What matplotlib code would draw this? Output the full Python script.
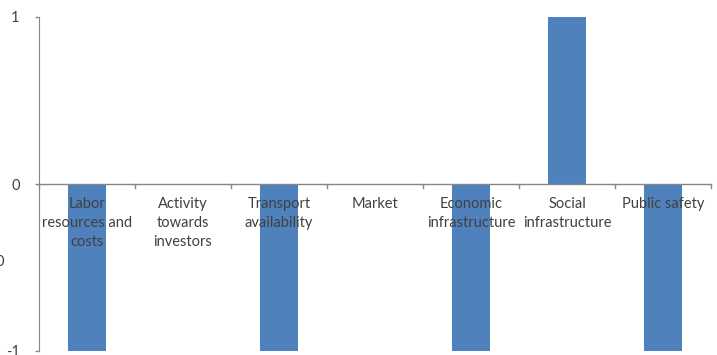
import matplotlib
matplotlib.use("Agg")
import matplotlib.pyplot as plt
import numpy as np

categories = ["Labor\nresources and\ncosts", "Activity\ntowards\ninvestors",
              "Transport\navailability", "Market", "Economic\ninfrastructure",
              "Social\ninfrastructure", "Public safety"]
values = [-1, 0, -1, 0, -1, 1, -1]
ytick_values = [-1, 0, 1]

plt.rcParams['font.family'] = ['Lato', 'DejaVu Sans']
text_color = "#404040"
axis_color = "#868686"
bar_color = "#4F81BD"

fig = plt.figure(figsize=(7.17, 3.55), dpi=100)
ax = fig.add_axes([39 / 717, 1 - 351 / 355, (711 - 39) / 717, (351 - 17) / 355])

x = np.arange(len(categories))
ax.bar(x, values, width=0.4, color=bar_color, zorder=2)

ax.set_xlim(-0.5, len(categories) - 0.5)
ax.set_ylim(-1, 1)

for s in ["top", "right", "bottom"]:
    ax.spines[s].set_visible(False)
ax.spines["left"].set_color(axis_color)
ax.axhline(0, color=axis_color, lw=1, zorder=3)

ax.set_xticks([])
# category boundary ticks on the zero line
for b in np.arange(-0.5, len(categories), 1.0):
    ax.plot([b, b], [0, -0.025], color=axis_color, lw=1, zorder=3, clip_on=False)

ax.set_yticks(ytick_values)
ax.set_yticklabels([str(v) for v in ytick_values])
ax.tick_params(axis="y", length=3, width=1, color=axis_color, pad=11,
               labelsize=10.5, labelcolor=text_color)

for xi, label in zip(x, categories):
    ax.annotate(label, (xi, 0), xytext=(0, -9.5), textcoords="offset points",
                ha="center", va="top", fontsize=10.5, color=text_color,
                linespacing=1.45, zorder=4)

# clipped axis title at the left edge
fig.text(-0.006, 1 - 262 / 355, "0", fontsize=10.5, color=text_color,
         ha="left", va="center")

fig.savefig("out.png", dpi=100)
